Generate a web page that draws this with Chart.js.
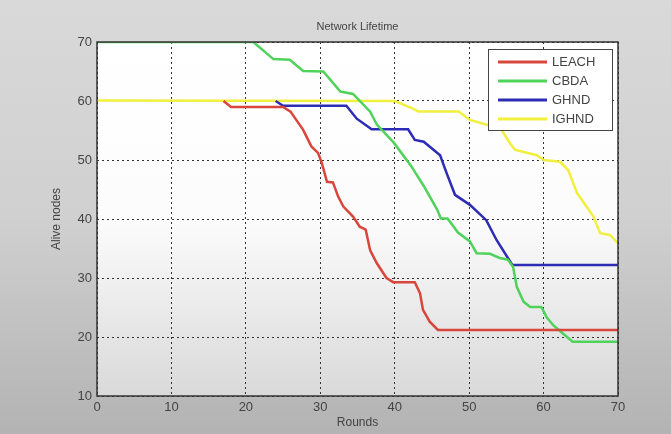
<!DOCTYPE html>
<html>
<head>
<meta charset="utf-8">
<script src="https://cdn.jsdelivr.net/npm/chart.js@4"></script>
<style>
  html, body { margin: 0; padding: 0; background: #d2d2d2; }
  #wrap { width: 671px; height: 434px; position: relative; }
</style>
</head>
<body>
<div id="wrap"><canvas id="lifeChart" width="671" height="434"></canvas></div>
<script>
// vertex points of each curve (round, alive nodes)
const leachRounds = [17, 18, 25, 26, 27.7, 28.8, 29.7, 30.2, 30.9, 31.7, 32.4, 33.1, 34.4, 35.3, 36.1, 36.7, 37.6, 38.9, 39.8, 42.7, 43.4, 43.8, 44.7, 45.8, 70];
const leachNodes  = [60, 59, 59, 58.2, 55.1, 52.3, 51.2, 49.5, 46.3, 46.2, 43.8, 42.1, 40.4, 38.7, 38.2, 34.7, 32.5, 30, 29.3, 29.3, 27.4, 24.6, 22.6, 21.2, 21.2];

const cbdaRounds = [0, 21, 23.7, 25.9, 27.7, 30.4, 32.7, 34.4, 36.7, 37.6, 39.9, 42.2, 43.9, 45.7, 46.2, 47.1, 48.5, 50.1, 51, 52.8, 54.1, 55.2, 55.9, 56.4, 57.3, 58.2, 59.7, 60.4, 61.3, 62.6, 63.9, 70];
const cbdaNodes  = [70, 70, 67.1, 67, 65.1, 65, 61.6, 61.2, 58.2, 56, 52.9, 49, 45.6, 41.6, 40.1, 40.1, 37.7, 36.2, 34.2, 34.1, 33.4, 33.1, 31.9, 28.5, 26, 25.1, 25.1, 23.4, 22, 20.6, 19.2, 19.2];

const ghndRounds = [24, 25, 33.5, 34.9, 36.9, 41.8, 42.7, 43.9, 46.1, 47, 48.1, 50.1, 52.3, 53.7, 55.8, 70];
const ghndNodes  = [60, 59.2, 59.2, 57, 55.2, 55.2, 53.4, 53.1, 50.8, 47.7, 44.1, 42.4, 39.8, 36.4, 32.2, 32.2];

const ighndRounds = [0, 40, 42.3, 43.2, 48.6, 50.1, 52.6, 54.1, 55.5, 56.2, 59.1, 60, 62.2, 63.3, 64.5, 66.7, 67.6, 68.9, 70];
const ighndNodes  = [60.1, 60, 58.8, 58.2, 58.2, 56.8, 55.9, 55.6, 52.8, 51.7, 50.8, 50, 49.7, 48.3, 44.4, 40.4, 37.6, 37.3, 35.9];

const seriesNames = ["LEACH", "CBDA", "GHND", "IGHND"];
const seriesColors = ["#d8463c", "#4fd35a", "#2c2cb4", "#f1f03e"];
const xTicks = [0, 10, 20, 30, 40, 50, 60, 70];
const yTicks = [10, 20, 30, 40, 50, 60, 70];

function toPoints(xs, ys) {
    return xs.map((x, i) => ({ x: x, y: ys[i] }));
}

const allRounds = [leachRounds, cbdaRounds, ghndRounds, ighndRounds];
const allNodes = [leachNodes, cbdaNodes, ghndNodes, ighndNodes];

// page / plot backgrounds, box and legend drawn around the library's chart area
const decorPlugin = {
    id: "decor",
    beforeDraw(chart) {
        const { ctx, chartArea: a, width, height } = chart;
        ctx.save();
        let g = ctx.createLinearGradient(0, 0, 0, height);
        g.addColorStop(0, "#d9d9d9");
        g.addColorStop(0.5, "#d0d0d0");
        g.addColorStop(1, "#b3b3b3");
        ctx.fillStyle = g;
        ctx.fillRect(0, 0, width, height);
        g = ctx.createLinearGradient(0, a.top, 0, a.bottom);
        g.addColorStop(0, "#ffffff");
        g.addColorStop(0.5, "#fcfcfc");
        g.addColorStop(1, "#d9d9d9");
        ctx.fillStyle = g;
        ctx.fillRect(a.left, a.top, a.right - a.left, a.bottom - a.top);
        ctx.restore();
    },
    afterDraw(chart) {
        const { ctx, chartArea: a } = chart;
        ctx.save();
        ctx.strokeStyle = "#333";
        ctx.lineWidth = 1.5;
        ctx.strokeRect(a.left, a.top, a.right - a.left, a.bottom - a.top);

        // legend box in the upper right corner
        const bx = a.right - 130, by = a.top + 7, bw = 124, bh = 81;
        ctx.fillStyle = "#ffffff";
        ctx.fillRect(bx, by, bw, bh);
        ctx.strokeStyle = "#444";
        ctx.lineWidth = 1;
        ctx.strokeRect(bx + 0.5, by + 0.5, bw, bh);
        ctx.font = "13px 'Liberation Sans', Arial, sans-serif";
        ctx.textBaseline = "middle";
        seriesNames.forEach((name, i) => {
            const y = by + 13 + i * 19;
            ctx.strokeStyle = seriesColors[i];
            ctx.lineWidth = 3;
            ctx.beginPath();
            ctx.moveTo(bx + 10, y);
            ctx.lineTo(bx + 59, y);
            ctx.stroke();
            ctx.fillStyle = "#444";
            ctx.fillText(name, bx + 64, y);
        });
        ctx.restore();
    }
};

const ctx = document.getElementById("lifeChart").getContext("2d");

new Chart(ctx, {
    type: "line",
    data: {
        datasets: seriesNames.map((name, i) => ({
            label: name,
            data: toPoints(allRounds[i], allNodes[i]),
            borderColor: seriesColors[i],
            borderWidth: 2.5,
            pointRadius: 0,
            fill: false,
            tension: 0
        }))
    },
    options: {
        responsive: false,
        animation: false,
        layout: { padding: { left: 49, right: 53, top: 0, bottom: 0 } },
        plugins: {
            legend: { display: false },
            tooltip: { enabled: false },
            title: {
                display: true,
                text: "Network Lifetime",
                fullSize: false,
                color: "#444",
                font: { family: "'Liberation Sans', Arial, sans-serif", size: 11, weight: "normal" },
                padding: { top: 20, bottom: 8.8 }
            }
        },
        scales: {
            x: {
                type: "linear",
                min: 0,
                max: 70,
                afterBuildTicks: s => { s.ticks = xTicks.map(v => ({ value: v })); },
                afterFit: s => { s.height = 38; },
                grid: { color: "#333", drawTicks: false, lineWidth: 1 },
                border: { display: false, dash: [2, 3] },
                ticks: { color: "#444", padding: 4, font: { family: "'Liberation Sans', Arial, sans-serif", size: 13 } },
                title: { display: true, text: "Rounds", color: "#444", padding: { top: 0, bottom: 4 },
                         font: { family: "'Liberation Sans', Arial, sans-serif", size: 12 } }
            },
            y: {
                min: 10,
                max: 70,
                afterBuildTicks: s => { s.ticks = yTicks.map(v => ({ value: v })); },
                afterFit: s => { s.width = 48; },
                grid: { color: "#333", drawTicks: false, lineWidth: 1 },
                border: { display: false, dash: [2, 3] },
                ticks: { color: "#444", padding: 5, font: { family: "'Liberation Sans', Arial, sans-serif", size: 13 } },
                title: { display: true, text: "Alive nodes", color: "#444", padding: 0,
                         font: { family: "'Liberation Sans', Arial, sans-serif", size: 12 } }
            }
        }
    },
    plugins: [decorPlugin]
});
</script>
</body>
</html>
